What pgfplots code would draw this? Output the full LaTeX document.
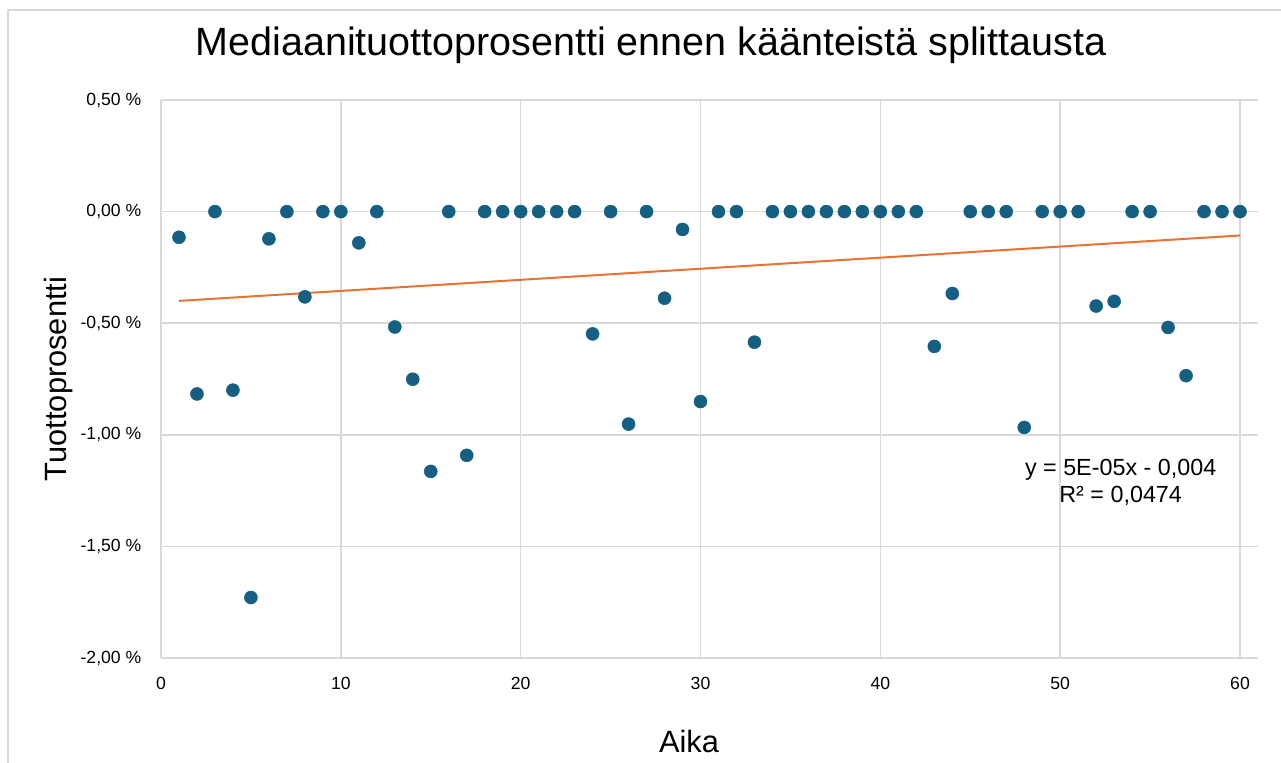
\documentclass[border=0pt]{standalone}
\usepackage{fontspec}
\setmainfont{Liberation Sans}
\usepackage{pgfplots}
\usepackage{pgfplotstable}
\pgfplotsset{compat=1.18}
\definecolor{dotblue}{HTML}{156082}
\definecolor{trendorange}{HTML}{E97132}
\definecolor{gridgray}{HTML}{D9D9D9}
\pgfplotstableread{
x y
1 -0.115
2 -0.817
3 0
4 -0.800
5 -1.729
6 -0.122
7 0
8 -0.382
9 0
10 0
11 -0.140
12 0
13 -0.517
14 -0.751
15 -1.164
16 0
17 -1.092
18 0
19 0
20 0
21 0
22 0
23 0
24 -0.548
25 0
26 -0.952
27 0
28 -0.388
29 -0.080
30 -0.851
31 0
32 0
33 -0.585
34 0
35 0
36 0
37 0
38 0
39 0
40 0
41 0
42 0
43 -0.604
44 -0.367
45 0
46 0
47 0
48 -0.967
49 0
50 0
51 0
52 -0.423
53 -0.402
54 0
55 0
56 -0.519
57 -0.735
58 0
59 0
60 0
}\datatable
\pgfplotstableread{
x y
1 -0.400
60 -0.107
}\trendtable
\begin{document}
\begin{tikzpicture}
\useasboundingbox (0,0) rectangle (960.75pt,-572.25pt);
\draw[gridgray, line width=0.9pt] (6pt,-572.25pt) -- (6pt,-7.5pt) -- (960.75pt,-7.5pt);
\begin{axis}[
  at={(120.75pt,-75pt)}, anchor=north west,
  scale only axis, width=822.75pt, height=418.5pt,
  xmin=0, xmax=61, ymin=-2, ymax=0.5,
  xtick={0,10,20,30,40,50,60},
  ytick={-2,-1.5,-1,-0.5,0,0.5},
  xticklabels={0,10,20,30,40,50,60},
  yticklabels={{-2,00 \%},{-1,50 \%},{-1,00 \%},{-0,50 \%},{0,00 \%},{0,50 \%}},
  /pgf/number format/assume math mode=true,
  ticklabel style={font=\fontsize{13.2}{15}\selectfont, inner sep=0pt},
  yticklabel style={anchor=east, xshift=-14.6pt},
  xticklabel style={anchor=north, yshift=-14pt},
  grid=major,
  major grid style={gridgray, line width=1.2pt},
  axis line style={draw=none},
  major tick length=0pt,
  tick style={draw=none},
  title={Mediaanituottoprosentti ennen käänteistä splittausta},
  title style={at={(axis description cs:0.4467,1.0663)}, anchor=base, font=\fontsize{29.6}{34}\selectfont, inner sep=0pt},
  xlabel={Aika},
  xlabel style={at={(axis description cs:0.4813,-0.169)}, anchor=base, font=\fontsize{23.1}{27}\selectfont, inner sep=0pt},
  ylabel={Tuottoprosentti},
  ylabel style={at={(axis description cs:-0.086,0.5)}, anchor=base, rotate=0, font=\fontsize{23.1}{27}\selectfont, inner sep=0pt},
  clip=false,
]
\addplot[only marks, mark=*, mark size=4.875pt, color=dotblue, mark options={fill=dotblue, draw=dotblue}] table[x=x,y=y] {\datatable};
\addplot[trendorange, line width=1.5pt] table[x=x,y=y] {\trendtable};
\node[anchor=base, font=\fontsize{17.5}{20}\selectfont, inner sep=0pt] at (axis description cs:0.8748,0.3267) {y = 5E-05x - 0,004};
\node[anchor=base, font=\fontsize{17.5}{20}\selectfont, inner sep=0pt] at (axis description cs:0.8748,0.279) {R² = 0,0474};
\end{axis}
\end{tikzpicture}
\end{document}
